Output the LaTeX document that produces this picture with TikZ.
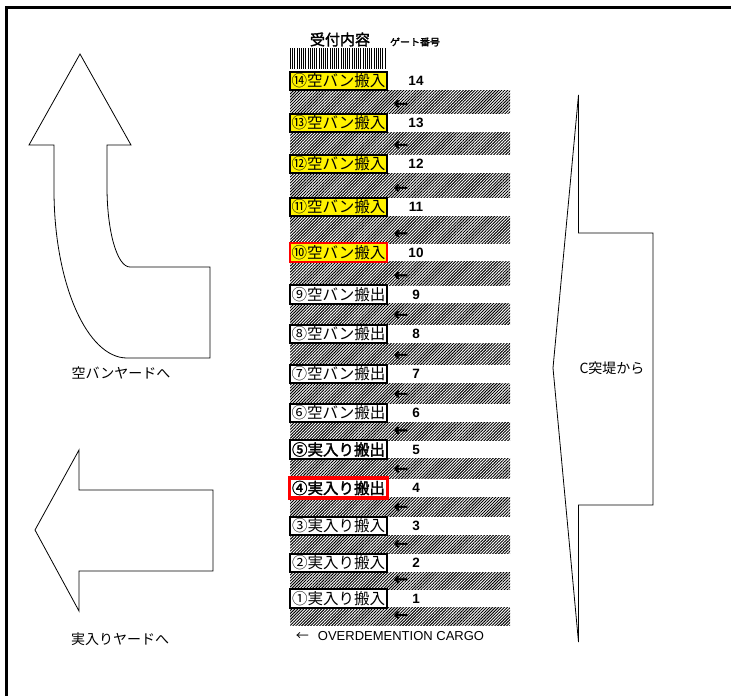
\documentclass[tikz,border=0pt]{standalone}
\usepackage{fontspec}
\setmainfont{Liberation Sans}
\newfontfamily\cjk{Noto Sans CJK JP}
\newfontfamily\cjkb{Noto Sans CJK JP}[FakeBold=2]
\newfontfamily\dejavu{DejaVu Sans}[FakeBold=3.5]
\usetikzlibrary{patterns.meta}
\begin{document}
\begin{tikzpicture}[x=1pt,y=-1pt,
  lbl/.style={font=\cjk\fontsize{14}{16}\selectfont, inner sep=0},
  gbox/.style={draw=black, line width=1.8pt, fill=white, minimum width=97pt, minimum height=18.5pt, inner sep=0, font=\cjk\fontsize{15.5}{16}\selectfont},
  ybox/.style={gbox, fill=yellow},
  rybox/.style={gbox, fill=yellow, draw=red, line width=2pt},
  bbox/.style={gbox, font=\cjkb\fontsize{15.5}{16}\selectfont},
  rbbox/.style={gbox, draw=red, line width=3.3pt, minimum width=98pt, minimum height=20pt, font=\cjkb\fontsize{15.5}{16}\selectfont},
  num/.style={font=\bfseries\fontsize{13.5}{13.5}\selectfont, inner sep=0},
  arr/.style={font=\dejavu\fontsize{17}{17}\selectfont, inner sep=0},
  band/.style={pattern={Lines[angle=45,distance=2.1pt,line width=0.95pt]}, pattern color=black},
  bigarrow/.style={draw=black, line width=0.8pt, fill=white}
]
\path[use as bounding box] (0,0) rectangle (731,696);
% frame
\draw[line width=3pt] (6.5,696) -- (6.5,7.5) -- (731,7.5);

% header
\node[font=\cjkb\fontsize{15}{15}\selectfont, inner sep=0] (hd1) at (340,39.5) {受付内容};
\node[font=\cjkb\fontsize{9.5}{9.5}\selectfont, inner sep=0, xscale=1.05] (hd2) at (415,42) {ゲート番号};
\fill[pattern={Lines[angle=90,distance=2.2pt,line width=1pt]}, pattern color=black] (290,48) rectangle (386,68);

% bands
\foreach \a/\b in {90.25/113.75, 132.25/154.75, 173.25/197.75, 216.25/243.25, 261.75/285.25, 303.75/324.75, 343.25/364.75, 383.25/403.75, 422.25/440.25, 458.75/478.75, 497.25/516.75, 535.25/553.75, 572.25/589.25, 607.75/625}{
  \fill[band] (290,\a) rectangle (510,\b);
}
% band arrows
\node[arr] (a14) at (401,104.75) {←};
\node[arr] (a13) at (401,145.75) {←};
\node[arr] (a12) at (401,188.75) {←};
\node[arr] (a11) at (401,234.25) {←};
\node[arr] (a10) at (401,276.25) {←};
\node[arr] (a9) at (401,315.75) {←};
\node[arr] (a8) at (401,355.75) {←};
\node[arr] (a7) at (401,394.75) {←};
\node[arr] (a6) at (401,431.25) {←};
\node[arr] (a5) at (401,469.75) {←};
\node[arr] (a4) at (401,507.75) {←};
\node[arr] (a3) at (401,544.75) {←};
\node[arr] (a2) at (401,580.25) {←};
\node[arr] (a1) at (401,616) {←};

% boxes
\node[ybox] (b14) at (338.5,81) {⑭空バン搬入};
\node[ybox] (b13) at (338.5,123) {⑬空バン搬入};
\node[ybox] (b12) at (338.5,164) {⑫空バン搬入};
\node[ybox] (b11) at (338.5,207) {⑪空バン搬入};
\node[rybox] (b10) at (338.5,252.5) {⑩空バン搬入};
\node[gbox] (b9) at (338.5,294.5) {⑨空バン搬出};
\node[gbox] (b8) at (338.5,334) {⑧空バン搬出};
\node[gbox] (b7) at (338.5,374) {⑦空バン搬出};
\node[gbox] (b6) at (338.5,413) {⑥空バン搬出};
\node[bbox] (b5) at (338.5,449.5) {⑤実入り搬出};
\node[rbbox] (b4) at (338.5,488) {④実入り搬出};
\node[gbox] (b3) at (338.5,526) {③実入り搬入};
\node[gbox] (b2) at (338.5,563) {②実入り搬入};
\node[gbox] (b1) at (338.5,598.5) {①実入り搬入};

% gate numbers
\node[num] (n14) at (416,81) {14};
\node[num] (n13) at (416,123) {13};
\node[num] (n12) at (416,164) {12};
\node[num] (n11) at (416,207) {11};
\node[num] (n10) at (416,252.5) {10};
\node[num] (n9) at (416,294.5) {9};
\node[num] (n8) at (416,334) {8};
\node[num] (n7) at (416,374) {7};
\node[num] (n6) at (416,413) {6};
\node[num] (n5) at (416,449.5) {5};
\node[num] (n4) at (416,488) {4};
\node[num] (n3) at (416,526) {3};
\node[num] (n2) at (416,563) {2};
\node[num] (n1) at (416,598.5) {1};

% legend
\node[inner sep=0, font=\fontsize{13}{13}\selectfont] (leg) at (390,636) {{\cjk ←}\hspace{9pt}OVERDEMENTION CARGO};

% curved up arrow
\draw[bigarrow] (80,54) -- (131,145) -- (107,145) -- (107,187)
  .. controls (107,231) and (117,267) .. (130,267) -- (210,267) -- (210,358) -- (127,358)
  .. controls (87,358) and (54,283) .. (54,190) -- (54,145) -- (29,145) -- cycle;
\node[lbl] (l1) at (121,373) {空バンヤードへ};

% left arrow
\draw[bigarrow] (35,530) -- (79,450) -- (79,490) -- (213,490) -- (213,571) -- (79,571) -- (79,611) -- cycle;
\node[lbl] (l2) at (120,639) {実入りヤードへ};

% right (from C) arrow
\draw[bigarrow] (578.5,95) -- (578.5,233) -- (653,233) -- (653,505) -- (578.5,505) -- (578.5,642) -- (553,368) -- cycle;
\node[lbl] (l3) at (612,368) {C突堤から};
\end{tikzpicture}
\end{document}
